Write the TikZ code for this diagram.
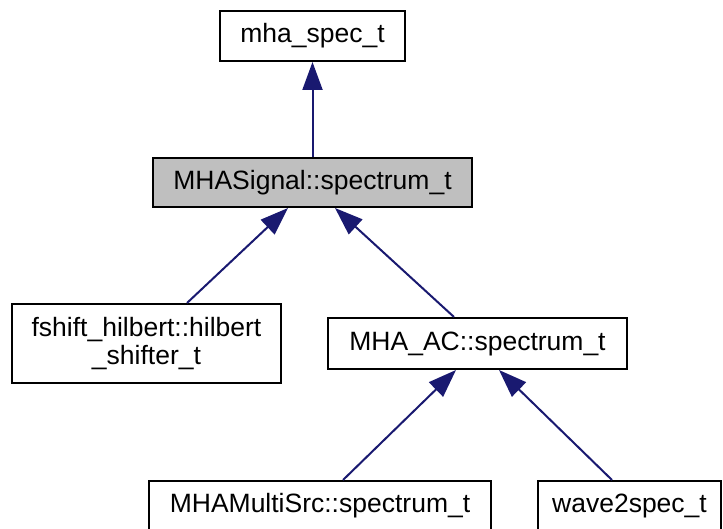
\documentclass[tikz,border=0pt]{standalone}
\usepackage{fontspec}
\setmainfont{Liberation Sans}
\usetikzlibrary{arrows.meta}

\begin{document}
\begin{tikzpicture}[x=1pt,y=-1pt,
    classBox/.style={draw=black, line width=2pt, inner sep=0pt, align=center,
        font=\fontsize{26.5}{28}\selectfont},
    inheritArrow/.style={draw=edgeColour, line width=2pt,
        {Triangle[length=28pt,width=20pt,fill=edgeColour]}-}]

    \definecolor{edgeColour}{HTML}{191970}
    \definecolor{fillColour}{HTML}{BFBFBF}

    % Page frame
    \clip (0,0) rectangle (723,529);
    \useasboundingbox (0,0) rectangle (723,529);

    % Draw class boxes
    \node[classBox, minimum width=185pt, minimum height=50pt] (spec) at (312.5,36) {mha\_spec\_t};
    \node[classBox, fill=fillColour, minimum width=319pt, minimum height=49pt] (signal) at (312.5,182.5) {MHASignal::spectrum\_t};
    \node[classBox, minimum width=269pt, minimum height=79pt] (hilbert) at (146.5,343.5) {fshift\_hilbert::hilbert\\\_shifter\_t};
    \node[classBox, minimum width=299pt, minimum height=51pt] (ac) at (477.5,343.5) {MHA\_AC::spectrum\_t};
    \node[classBox, minimum width=342pt, minimum height=50pt] (multi) at (320,506) {MHAMultiSrc::spectrum\_t};
    \node[classBox, minimum width=183pt, minimum height=50pt] (wave) at (629.5,506) {wave2spec\_t};

    % Draw inheritance arrows
    \draw[inheritArrow] (spec.south) -- (signal.north);
    \draw[inheritArrow] ([xshift=-24.5pt]signal.south) -- ([xshift=40.5pt]hilbert.north);
    \draw[inheritArrow] ([xshift=22.5pt]signal.south) -- ([xshift=-23.5pt]ac.north);
    \draw[inheritArrow] ([xshift=-21.5pt]ac.south) -- ([xshift=23pt]multi.north);
    \draw[inheritArrow] ([xshift=21.5pt]ac.south) -- ([xshift=-17.5pt]wave.north);

\end{tikzpicture}
\end{document}
